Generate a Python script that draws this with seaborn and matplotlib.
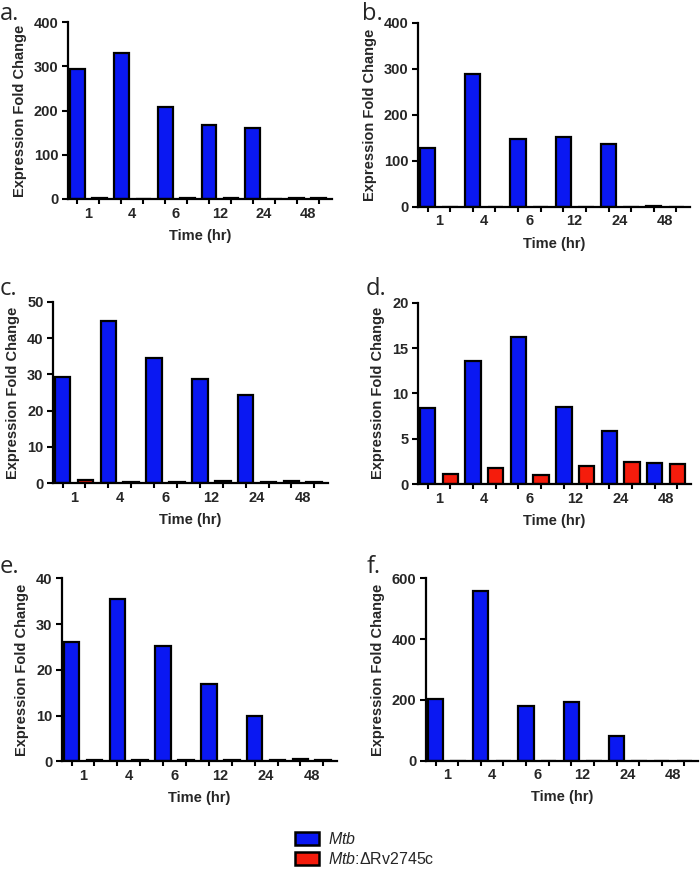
import matplotlib
matplotlib.use('Agg')
import matplotlib.pyplot as plt
import seaborn as sns
import pandas as pd
from matplotlib.patches import Patch

# 数据
times = ['1', '4', '6', '12', '24', '48']
strains = ['Mtb', 'Mtb:ΔRv2745c']

a_mtb = [294, 331, 208, 168, 160, 3]
a_mut = [1.5, 0.3, 1.5, 1.2, 0.3, 1.5]
b_mtb = [127, 288, 147, 151, 136, 2]
b_mut = [0, 0, 0, 0, 0, 0]
c_mtb = [29.3, 44.8, 34.5, 28.8, 24.3, 0.5]
c_mut = [1.0, 0.4, 0.3, 0.5, 0.4, 0.4]
d_mtb = [8.4, 13.6, 16.2, 8.45, 5.8, 2.3]
d_mut = [1.07, 1.73, 1.0, 1.98, 2.39, 2.24]
e_mtb = [26.1, 35.4, 25.1, 17.0, 9.9, 0.4]
e_mut = [0.3, 0.3, 0.2, 0.2, 0.2, 0.2]
f_mtb = [203, 559, 179, 193, 82, 0]
f_mut = [0, 0, 0, 0, 0, 0]

colors = {'Mtb': '#0a18f2', 'Mtb:ΔRv2745c': '#f51c0c'}

sns.set_theme(style='white')
plt.rcParams['font.family'] = ['Liberation Sans', 'DejaVu Sans']
plt.rcParams['mathtext.fontset'] = 'custom'
plt.rcParams['mathtext.it'] = 'Liberation Sans:italic'
plt.rcParams['mathtext.rm'] = 'Liberation Sans'

W, H = 700, 874
fig = plt.figure(figsize=(7, 8.74), dpi=100)


def make_ax(left, right, top, bottom):
    # 像素坐标 -> 图坐标
    return fig.add_axes([left / W, 1 - bottom / H, (right - left) / W, (bottom - top) / H])


def draw_panel(ax, mtb, mut, ymax, step, letter, lx, ly):
    df = pd.DataFrame({
        'time': times * 2,
        'strain': [strains[0]] * 6 + [strains[1]] * 6,
        'fold': mtb + mut,
    })
    sns.barplot(data=df, x='time', y='fold', hue='strain', order=times,
                hue_order=strains, palette=colors, width=1.0, gap=0.32,
                edgecolor='black', linewidth=1.6, ax=ax, legend=False,
                errorbar=None, saturation=1)
    ax.set_xlim(-0.46, 5.55)
    ax.set_ylim(0, ymax)
    ax.set_yticks(range(0, ymax + 1, step))
    ax.set_xticks(range(6))
    ax.set_xticklabels(times)
    ax.set_xticks([i + d for i in range(6) for d in (-0.25, 0.25)], minor=True)
    ax.tick_params(axis='x', which='major', length=0, pad=5.5, labelsize=10.5)
    ax.tick_params(axis='x', which='minor', length=3.8, width=1.5, color='black', bottom=True)
    ax.tick_params(axis='y', length=4.3, width=1.5, color='black', pad=2.5, labelsize=10.5, left=True)
    for lab in ax.get_xticklabels() + ax.get_yticklabels():
        lab.set_fontweight('bold')
    ax.set_xlabel('Time (hr)', fontsize=10.5, fontweight='bold', labelpad=6)
    ax.set_ylabel('Expression Fold Change', fontsize=10.5, fontweight='bold', labelpad=5)
    sns.despine(ax=ax)
    for s in ['left', 'bottom']:
        ax.spines[s].set_linewidth(1.6)
        ax.spines[s].set_color('black')
    fig.text(lx / W, 1 - ly / H, letter, fontsize=17, family='Open Sans', va='baseline')


draw_panel(make_ax(68, 332, 22, 199), a_mtb, a_mut, 400, 100, 'a.', 0, 20)
draw_panel(make_ax(418, 690, 22.7, 206.7), b_mtb, b_mut, 400, 100, 'b.', 362, 20)
draw_panel(make_ax(53, 328, 301.7, 483.3), c_mtb, c_mut, 50, 10, 'c.', 0, 295)
draw_panel(make_ax(418, 691, 302.7, 484), d_mtb, d_mut, 20, 5, 'd.', 366, 295)
draw_panel(make_ax(62, 337, 578.3, 761.3), e_mtb, e_mut, 40, 10, 'e.', 0, 573)
draw_panel(make_ax(426, 698, 578.3, 760.5), f_mtb, f_mut, 600, 200, 'f.', 367, 573)

handles = [Patch(facecolor=colors[s], edgecolor='black', linewidth=1.8) for s in strains]
labels = [r'$\mathit{Mtb}$', r'$\mathit{Mtb}$:ΔRv2745c']
fig.legend(handles, labels, loc='upper left', bbox_to_anchor=(292 / W, 1 - 828 / H),
           frameon=False, fontsize=11.5, handlelength=1.5, handleheight=0.9,
           labelspacing=0.25, handletextpad=0.55, borderaxespad=0, borderpad=0.2)

fig.savefig('out.png', dpi=100)
plt.close()
